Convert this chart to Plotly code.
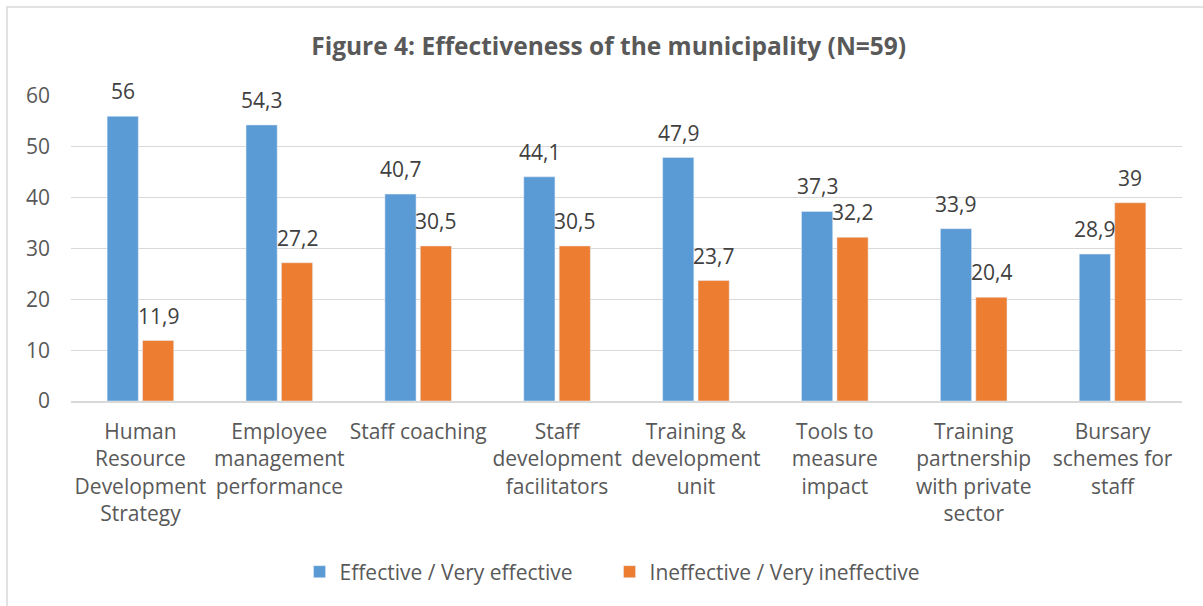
import plotly.graph_objects as go

categories = [
    "Human<br>Resource<br>Development<br>Strategy",
    "Employee<br>management<br>performance",
    "Staff coaching",
    "Staff<br>development<br>facilitators",
    "Training &<br>development<br>unit",
    "Tools to<br>measure<br>impact",
    "Training<br>partnership<br>with private<br>sector",
    "Bursary<br>schemes for<br>staff",
]
effective = [56, 54.3, 40.7, 44.1, 47.9, 37.3, 33.9, 28.9]
ineffective = [11.9, 27.2, 30.5, 30.5, 23.7, 32.2, 20.4, 39]

FONT = "Open Sans"
TEXT = "#595959"
W, H = 1203, 606
L, R, T, B = 71, 21, 96, 205
pw, ph = W - L - R, H - T - B

fig = go.Figure()
fig.add_trace(go.Bar(name="Effective / Very effective", x=categories, y=effective,
                     marker_color="#5B9BD5"))
fig.add_trace(go.Bar(name="Ineffective / Very ineffective", x=categories, y=ineffective,
                     marker_color="#ED7D31"))

# data labels (Excel puts them a little higher above the bars)
half = pw / len(categories) * 0.51 / 4
for vals, dx in [(effective, -half), (ineffective, half)]:
    for c, v in zip(categories, vals):
        fig.add_annotation(x=c, y=v, text=f"{v:g}".replace(".", ","), showarrow=False,
                           xshift=dx, yanchor="bottom", yshift=9,
                           font=dict(size=21, color="#404040", family=FONT))

# light frame around the chart
fig.add_shape(type="rect", xref="paper", yref="paper",
              x0=(7 - L) / pw, x1=(W + 5 - L) / pw,
              y0=-(H + 5 - T - ph) / ph, y1=1 + (T - 7) / ph,
              line=dict(color="#D9D9D9", width=1.5), layer="below")

fig.update_layout(
    width=W, height=H,
    margin=dict(l=L, r=R, t=T, b=B),
    paper_bgcolor="white", plot_bgcolor="white",
    separators=", ",
    font=dict(family=FONT, color=TEXT, size=21),
    title=dict(text="<b>Figure 4: Effectiveness of the municipality (N=59)</b>",
               x=0.506, xanchor="center", y=1 - 46 / H, yanchor="middle",
               font=dict(size=24.5, color=TEXT, family=FONT)),
    barmode="group", bargap=0.49, bargroupgap=0.12,
    showlegend=True,
    legend=dict(orientation="h", xref="container", x=0.249, xanchor="left",
                yref="container", y=1 - 572 / H, yanchor="middle",
                entrywidth=265, entrywidthmode="pixels",
                font=dict(size=21, color=TEXT), traceorder="normal"),
    xaxis=dict(showline=True, linecolor="#D9D9D9", linewidth=1.5, ticks="",
               tickfont=dict(size=21, color=TEXT), ticklabelstandoff=11),
    yaxis=dict(range=[0, 60], dtick=10, showgrid=True, gridcolor="#D9D9D9",
               gridwidth=1.3, zeroline=False, showline=False, ticks="",
               tickfont=dict(size=21, color=TEXT), ticklabelstandoff=20),
)

fig.write_html("out.html", config={"displayModeBar": False},
               post_script="document.body.style.margin='0';")
